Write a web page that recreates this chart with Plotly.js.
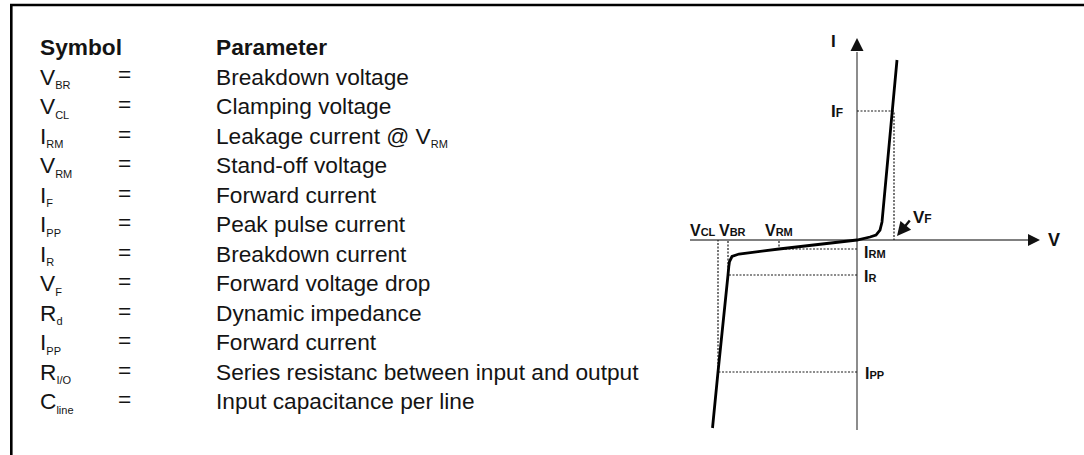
<!DOCTYPE html>
<html><head><meta charset="utf-8">
<script src="https://cdn.plot.ly/plotly-3.0.1.min.js"></script>
<style>html,body{margin:0;padding:0;background:#fff;}#chart{width:1084px;height:455px;}</style>
</head><body><div id="chart"></div>
<script>
// ---- Table content ----
const symbolHeader = 'Symbol';
const parameterHeader = 'Parameter';
const symbols = ['V|BR', 'V|CL', 'I|RM', 'V|RM', 'I|F', 'I|PP', 'I|R', 'V|F', 'R|d', 'I|PP', 'R|I/O', 'C|line'];
const parameters = ['Breakdown voltage', 'Clamping voltage', 'Leakage current @ V|RM', 'Stand-off voltage',
  'Forward current', 'Peak pulse current', 'Breakdown current', 'Forward voltage drop',
  'Dynamic impedance', 'Forward current', 'Series resistanc between input and output', 'Input capacitance per line'];

// ---- I-V characteristic (V horizontal, I vertical, arbitrary units) ----
const curveV = [4.0, 3.55, 2.5, 2.3, 1.9, 1.3, 0.0, -7.8, -11.8, -12.5, -12.75, -12.82, -12.9, -13.9, -14.45];
const curveI = [18.0, 12.9, 1.8, 1.0, 0.5, 0.3, 0.0, -0.9, -1.4, -1.65, -2.15, -2.65, -3.5, -13.2, -18.8];

// key points: name of current, name of voltage, V value, I value
const keyINames = ['F', 'RM', 'R', 'PP'];
const keyVNames = ['F', 'RM', 'BR', 'CL'];
const keyV = [3.7, -7.8, -12.9, -13.9];
const keyI = [12.9, -0.9, -3.5, -13.2];

// axis extents (line ends and arrow tips)
const vAxisExtent = [-16.7, 17.2];
const vAxisTip = 18.3;
const iAxisExtent = [-19.0, 18.8];
const iAxisTip = 20.2;

// ---- page geometry ----
const W = 1084, H = 455;
const px = p => p / W;
const py = p => 1 - p / H;
const TXT = '#141414';
const FONT = 'Arial, "Liberation Sans", Helvetica, sans-serif';

function subTxt(s, size) {
  const parts = s.split('|');
  if (parts.length < 2) return s;
  return parts[0] + '<sub><span style="font-size:' + size + 'px">' + parts[1] + '</span></sub>';
}
function capLabel(main, small, little) {
  return '<b>' + main + '<span style="font-size:' + little + 'px">' + small + '</span></b>';
}

const traces = [];
// axes
traces.push({x: vAxisExtent, y: [0, 0], mode: 'lines', line: {color: '#808080', width: 1.8}, hoverinfo: 'skip'});
traces.push({x: [0, 0], y: iAxisExtent, mode: 'lines', line: {color: '#808080', width: 1.8}, hoverinfo: 'skip'});
// dashed guides
for (let k = 0; k < keyV.length; k++) {
  traces.push({x: [0, keyV[k], keyV[k]], y: [keyI[k], keyI[k], 0], mode: 'lines',
    line: {color: '#1a1a1a', width: 1.2, dash: '2px,1.5px'}, hoverinfo: 'skip'});
}
// curve
traces.push({x: curveV, y: curveI, mode: 'lines', line: {color: '#000', width: 2.8}, hoverinfo: 'skip'});

const ann = [];
// table: symbol column and parameter column (multi-line)
const FS = 22.7;
const symText = ['<b>' + symbolHeader + '</b>'].concat(symbols.map(s => subTxt(s, 11))).join('<br>');
const parText = ['<b>' + parameterHeader + '</b>'].concat(parameters.map(s => subTxt(s, 11))).join('<br>');
const topY = 32.6;
ann.push({xref: 'paper', yref: 'paper', x: px(39), y: py(topY), xanchor: 'left', yanchor: 'top', align: 'left',
  text: symText, showarrow: false, borderpad: 0, font: {family: FONT, size: FS, color: TXT}});
ann.push({xref: 'paper', yref: 'paper', x: px(215), y: py(topY), xanchor: 'left', yanchor: 'top', align: 'left',
  text: parText, showarrow: false, borderpad: 0, font: {family: FONT, size: FS, color: TXT}});
for (let r = 0; r < symbols.length; r++) {
  ann.push({xref: 'paper', yref: 'paper', x: px(117), y: py(45 + 29.5 * (r + 1)), xanchor: 'left', yanchor: 'middle',
    text: '=', showarrow: false, borderpad: 0, font: {family: FONT, size: FS, color: TXT}});
}

// axis arrowheads
ann.push({x: 0, y: iAxisTip, ax: 0, ay: iAxisExtent[1], axref: 'x', ayref: 'y', text: '', showarrow: true,
  arrowhead: 2, arrowwidth: 2, arrowsize: 1.3, arrowcolor: '#111'});
ann.push({x: vAxisTip, y: 0, ax: vAxisExtent[1], ay: 0, axref: 'x', ayref: 'y', text: '', showarrow: true,
  arrowhead: 2, arrowwidth: 2, arrowsize: 1.2, arrowcolor: '#111'});
// VF pointer arrow
ann.push({x: keyV[0] + 0.3, y: 0.4, ax: keyV[0] + 1.7, ay: 2.1, axref: 'x', ayref: 'y', text: '', showarrow: true,
  arrowhead: 2, arrowwidth: 2.4, arrowsize: 1.15, arrowcolor: '#111'});

const LF = {family: FONT, color: '#111'};
function lab(x, y, text, size, xanchor, xshift, yshift) {
  ann.push({x: x, y: y, text: text, showarrow: false, xanchor: xanchor, yanchor: 'middle', xshift: xshift, yshift: yshift,
    borderpad: 0, font: Object.assign({size: size}, LF)});
}
// axis names
lab(0, iAxisTip, '<b>I</b>', 17, 'right', -20, -3);
lab(vAxisTip, 0, '<b>V</b>', 18, 'left', 7, 0);
// current labels next to the I axis
lab(0, keyI[0], capLabel('I', keyINames[0], 12), 17, 'right', -13, 0);
lab(0, keyI[1], capLabel('I', keyINames[1], 11), 16, 'left', 6, -3);
lab(0, keyI[2], capLabel('I', keyINames[2], 11), 16, 'left', 6, -1);
lab(0, keyI[3], capLabel('I', keyINames[3], 11), 16, 'left', 7, -1);
// voltage labels above the V axis
lab(keyV[0], 0, capLabel('V', keyVNames[0], 12), 17, 'left', 18, 23);
lab(keyV[1], 0, capLabel('V', keyVNames[1], 11), 16, 'left', -15, 10);
lab(keyV[2], 0, capLabel('V', keyVNames[2], 11), 16, 'left', -10, 10);
lab(keyV[3], 0, capLabel('V', keyVNames[3], 11), 16, 'left', -29, 10);

const layout = {
  width: W, height: H,
  margin: {l: 0, r: 0, t: 0, b: 0, pad: 0},
  paper_bgcolor: '#fff', plot_bgcolor: '#fff',
  showlegend: false,
  xaxis: {range: [-85.7, 22.7], visible: false, fixedrange: true},
  yaxis: {range: [-21.5, 24], visible: false, fixedrange: true},
  annotations: ann,
  shapes: [
    {type: 'line', xref: 'paper', yref: 'paper', x0: px(10), x1: 1.05, y0: py(5), y1: py(5), line: {color: '#000', width: 2.6}},
    {type: 'line', xref: 'paper', yref: 'paper', x0: px(11.3), x1: px(11.3), y0: py(5), y1: -0.05, line: {color: '#000', width: 2.6}}
  ]
};
Plotly.newPlot('chart', traces, layout, {staticPlot: true, displayModeBar: false});
</script>
</body></html>
